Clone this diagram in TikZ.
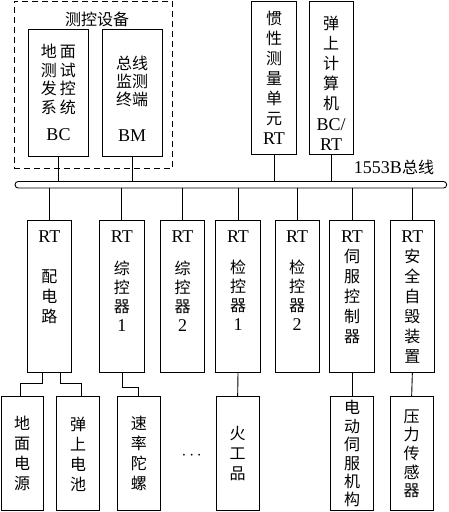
\documentclass[tikz,border=0pt]{standalone}
\usepackage{fontspec}
\setmainfont{Liberation Serif}
\newfontfamily\cjk{Noto Sans CJK SC}
\usetikzlibrary{positioning}
\newcommand{\entxt}[1]{{\rmfamily\fontsize{18}{20}\selectfont #1}}
\tikzset{
  unit/.style={draw,line width=0.9pt,inner sep=0pt,align=center,
    font=\cjk\fontsize{16}{20}\selectfont},
  txt/.style={inner sep=0pt,align=center,font=\cjk\fontsize{16}{20}\selectfont},
  wire/.style={line width=0.9pt}
}
\begin{document}
\begin{tikzpicture}[x=1pt,y=-1pt]
		\useasboundingbox (0,0) rectangle (448,512);
		% ground test equipment
		\node[draw,dashed,dash pattern=on 6pt off 4pt,line width=0.9pt,minimum width=158.7pt,minimum height=167pt] (ckgroup) at (93.35,84.5) {};
		\node[txt] (cktitle) at (97,19) {测控设备};
		\node[unit,minimum width=59.6pt,minimum height=126.7pt] (bc) at (58.5,92.65) {};
		\node[txt,below=15.5pt of bc.north,font=\cjk\fontsize{16}{18.4}\selectfont] (bc-t) {地\hspace{3pt}面\\测\hspace{3pt}试\\发\hspace{3pt}控\\系\hspace{3pt}统\\[9.4pt]\entxt{BC}};
		\node[unit,minimum width=60.3pt,minimum height=126.7pt] (bm) at (132.15,92.65) {};
		\node[txt,below=27pt of bm.north,font=\cjk\fontsize{16}{18}\selectfont] (bm-t) {总线\\监测\\终端\\[18pt]\entxt{BM}};
		\node[unit,minimum width=45.4pt,minimum height=153pt] (imu) at (274,77.5) {惯\\性\\测\\量\\单\\元\\\entxt{RT}};
		\node[unit,minimum width=44.3pt,minimum height=153pt] (ocp) at (331.15,77.5) {};
		\node[txt,below=15pt of ocp.north] (ocp-t) {弹\\上\\计\\算\\机\\[1pt]\entxt{BC/}\\\entxt{RT}};
		% bus
		\node[draw,line width=0.9pt,rounded corners=3.2pt,minimum width=431.7pt,minimum height=6.5pt,inner sep=0pt] (bus) at (230.85,184.75) {};
		\node[txt,anchor=base] (buslbl) at (394,173) {\entxt{1553B}总线};
		% remote terminals
		\foreach \n/\x in {pdl/49.3,zk1/121.85,zk2/182.5,jk1/238,jk2/297.2,sf/352,aq/412.35}
		\node[unit,minimum width=44.5pt,minimum height=152.7pt] (\n) at (\x,296.35) {};
		\node[txt,below=11pt of pdl.north] (pdl-t) {\entxt{RT}\\[20pt]配\\电\\路};
		\node[txt,below=11pt of zk1.north,font=\cjk\fontsize{16}{19}\selectfont] (zk1-t) {\entxt{RT}\\[13pt]综\\控\\器\\\entxt{1}};
		\node[txt,below=11pt of zk2.north,font=\cjk\fontsize{16}{19}\selectfont] (zk2-t) {\entxt{RT}\\[13pt]综\\控\\器\\\entxt{2}};
		\node[txt,below=11pt of jk1.north,font=\cjk\fontsize{16}{19}\selectfont] (jk1-t) {\entxt{RT}\\[12pt]检\\控\\器\\\entxt{1}};
		\node[txt,below=11pt of jk2.north,font=\cjk\fontsize{16}{19}\selectfont] (jk2-t) {\entxt{RT}\\[12pt]检\\控\\器\\\entxt{2}};
		\node[txt,below=11pt of sf.north] (sf-t) {\entxt{RT}\\伺\\服\\控\\制\\器};
		\node[txt,below=11pt of aq.north] (aq-t) {\entxt{RT}\\安\\全\\自\\毁\\装\\置};
		% devices
		\node[unit,minimum width=42.3pt,minimum height=114pt] (dm) at (22.15,453.85) {地\\面\\电\\源};
		\node[unit,minimum width=42.6pt,minimum height=114pt] (dc) at (78,453.85) {弹\\上\\电\\池};
		\node[unit,minimum width=43pt,minimum height=114pt] (sl) at (138.8,453.85) {速\\率\\陀\\螺};
		\node[unit,minimum width=43.3pt,minimum height=114pt] (hg) at (237.65,453.85) {火\\工\\品};
		\node[unit,minimum width=42.6pt,minimum height=114pt,font=\cjk\fontsize{16}{18.4}\selectfont] (dd) at (352,453.85) {电\\动\\伺\\服\\机\\构};
		\node[unit,minimum width=43.3pt,minimum height=114pt,font=\cjk\fontsize{16}{18.7}\selectfont] (yl) at (411.65,453.85) {压\\力\\传\\感\\器};
		\node[inner sep=0pt,font=\fontsize{16}{20}\selectfont] (dots) at (191.7,456) {$\cdots$};
		% links
		\foreach \n in {bc,bm,imu,ocp}
		\draw[wire] (\n.south) -- (\n.south |- bus.north);
		\foreach \n in {pdl,zk1,zk2,jk1,jk2,sf,aq}
		\draw[wire] (\n.north |- bus.south) -- (\n.north);
		\draw[wire] ([xshift=-6.6pt]pdl.south) -- ++(0,10.6) -| ([xshift=-1.5pt]dm.north);
		\draw[wire] ([xshift=11.4pt]pdl.south) -- ++(0,10.6) -| ([xshift=3pt]dc.north);
		\draw[wire] ([xshift=0.5pt]zk1.south) -- ++(0,14) -| (sl.north);
		\draw[wire] (jk1.south) -- (hg.north);
		\draw[wire] (sf.south) -- (dd.north);
		\draw[wire] (aq.south) -- (yl.north);
	\end{tikzpicture}
\end{document}
